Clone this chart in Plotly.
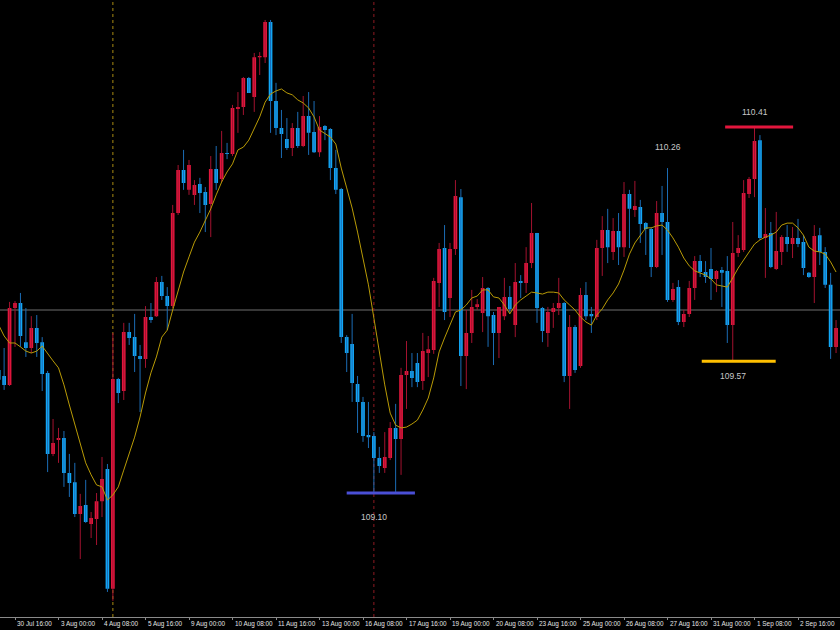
import plotly.graph_objects as go

# ---------------- data (H4 bars, index -1 .. 153) ----------------
bars = list(range(-1, 154))

open_ = [
    109.540, 109.519, 109.487, 109.762, 109.780, 109.640, 109.619, 109.691, 109.640, 109.530,
    109.240, 109.290, 109.297, 109.172, 109.139, 109.025, 109.057, 108.989, 109.007, 109.071,
    109.186, 108.757, 109.508, 109.465, 109.676, 109.658, 109.590, 109.580, 109.730, 109.733,
    109.855, 109.805, 109.769, 110.102, 110.256, 110.185, 110.167, 110.206, 110.177, 110.134,
    110.260, 110.224, 110.317, 110.313, 110.474, 110.482, 110.585, 110.517, 110.660, 110.660,
    110.786, 110.503, 110.406, 110.367, 110.335, 110.406, 110.342, 110.449, 110.392, 110.320,
    110.414, 110.403, 110.263, 110.188, 109.658, 109.633, 109.490, 109.426, 109.308, 109.304,
    109.225, 109.190, 109.225, 109.333, 109.293, 109.522, 109.537, 109.565, 109.501, 109.601,
    109.612, 109.852, 109.977, 109.798, 109.973, 110.159, 109.590, 109.673, 109.766, 109.744,
    109.834, 109.737, 109.673, 109.733, 109.802, 109.701, 109.859, 109.852, 109.923, 110.031,
    109.762, 109.673, 109.748, 109.762, 109.780, 109.519, 109.694, 109.555, 109.809, 109.741,
    109.730, 109.977, 110.041, 109.963, 110.038, 109.980, 110.170, 110.113, 110.124, 110.066,
    110.045, 109.909, 110.102, 110.070, 109.791, 109.837, 109.712, 109.741, 109.834, 109.930,
    109.891, 109.902, 109.866, 109.898, 109.895, 109.701, 109.959, 109.970, 110.170, 110.224,
    110.363, 110.013, 110.031, 109.902, 109.963, 110.016, 109.991, 110.013, 109.998, 109.888,
    109.873, 110.023, 109.963, 109.845, 109.623,
]

high = [
    109.558, 109.619, 109.784, 109.787, 109.816, 109.762, 109.733, 109.737, 109.658, 109.537,
    109.365, 109.333, 109.322, 109.240, 109.208, 109.097, 109.147, 109.032, 109.100, 109.229,
    109.204, 109.673, 109.512, 109.709, 109.709, 109.741, 109.630, 109.769, 109.780, 109.873,
    109.877, 109.837, 110.131, 110.274, 110.328, 110.292, 110.220, 110.228, 110.195, 110.306,
    110.342, 110.396, 110.353, 110.489, 110.535, 110.589, 110.589, 110.675, 110.678, 110.793,
    110.793, 110.568, 110.471, 110.442, 110.424, 110.464, 110.521, 110.535, 110.503, 110.449,
    110.417, 110.406, 110.328, 110.192, 109.665, 109.741, 109.519, 109.444, 109.426, 109.318,
    109.265, 109.318, 109.354, 109.419, 109.548, 109.644, 109.601, 109.601, 109.673, 109.662,
    109.870, 109.995, 110.059, 109.995, 110.220, 110.188, 109.755, 109.827, 109.794, 109.873,
    109.837, 109.748, 109.766, 109.870, 109.841, 109.923, 109.880, 109.980, 110.138, 110.031,
    109.766, 109.766, 109.780, 109.870, 109.784, 109.737, 109.701, 109.834, 109.855, 109.766,
    110.006, 110.091, 110.117, 110.084, 110.102, 110.213, 110.185, 110.217, 110.149, 110.070,
    110.052, 110.145, 110.199, 110.263, 109.852, 109.862, 109.755, 109.859, 109.948, 109.952,
    109.930, 109.977, 109.898, 109.909, 109.948, 110.070, 110.023, 110.220, 110.231, 110.410,
    110.381, 110.120, 110.070, 110.106, 110.023, 110.059, 110.052, 110.081, 110.023, 109.891,
    110.059, 110.049, 109.980, 109.888, 109.719,
]

low = [
    109.487, 109.469, 109.483, 109.623, 109.623, 109.587, 109.601, 109.587, 109.465, 109.175,
    109.232, 109.208, 109.122, 109.086, 109.014, 108.864, 108.993, 108.939, 108.914, 109.014,
    108.746, 108.714, 109.422, 109.433, 109.630, 109.533, 109.390, 109.548, 109.709, 109.730,
    109.791, 109.683, 109.762, 110.095, 110.185, 110.167, 110.131, 110.102, 110.034, 110.016,
    110.185, 110.213, 110.295, 110.306, 110.389, 110.453, 110.532, 110.464, 110.596, 110.639,
    110.389, 110.381, 110.299, 110.328, 110.306, 110.335, 110.338, 110.310, 110.317, 110.303,
    110.363, 110.220, 110.170, 109.637, 109.533, 109.426, 109.315, 109.283, 109.261, 109.100,
    109.172, 109.172, 109.218, 109.104, 109.165, 109.401, 109.479, 109.479, 109.469, 109.515,
    109.598, 109.766, 109.719, 109.730, 109.952, 109.483, 109.472, 109.637, 109.755, 109.676,
    109.623, 109.558, 109.583, 109.719, 109.744, 109.658, 109.798, 109.816, 109.905, 109.709,
    109.640, 109.623, 109.691, 109.737, 109.497, 109.401, 109.530, 109.548, 109.719, 109.673,
    109.719, 109.877, 109.923, 109.934, 109.916, 109.945, 109.977, 110.088, 109.995, 109.952,
    109.873, 109.905, 109.952, 109.784, 109.784, 109.701, 109.694, 109.730, 109.791, 109.873,
    109.852, 109.791, 109.819, 109.766, 109.637, 109.572, 109.945, 109.963, 110.156, 110.159,
    110.006, 109.870, 109.905, 109.898, 109.916, 109.963, 109.941, 109.980, 109.880, 109.870,
    109.780, 109.916, 109.834, 109.580, 109.601,
]

close = [
    109.505, 109.487, 109.762, 109.780, 109.662, 109.619, 109.691, 109.637, 109.526, 109.240,
    109.279, 109.297, 109.172, 109.136, 109.025, 109.054, 108.996, 109.011, 109.071, 109.150,
    108.757, 109.508, 109.458, 109.676, 109.655, 109.590, 109.580, 109.730, 109.719, 109.855,
    109.805, 109.769, 110.102, 110.256, 110.210, 110.274, 110.202, 110.174, 110.131, 110.260,
    110.210, 110.317, 110.313, 110.478, 110.482, 110.585, 110.532, 110.660, 110.664, 110.786,
    110.503, 110.406, 110.385, 110.335, 110.406, 110.342, 110.449, 110.389, 110.320, 110.410,
    110.399, 110.263, 110.185, 109.658, 109.601, 109.494, 109.426, 109.304, 109.300, 109.225,
    109.197, 109.229, 109.333, 109.293, 109.522, 109.537, 109.512, 109.497, 109.608, 109.615,
    109.859, 109.973, 109.748, 109.973, 110.163, 109.590, 109.673, 109.766, 109.776, 109.834,
    109.733, 109.673, 109.766, 109.802, 109.759, 109.855, 109.852, 109.923, 110.031, 109.762,
    109.680, 109.748, 109.762, 109.780, 109.519, 109.694, 109.540, 109.809, 109.733, 109.733,
    109.977, 110.041, 109.980, 110.038, 109.980, 110.170, 110.117, 110.127, 110.063, 110.045,
    109.909, 110.102, 110.070, 109.791, 109.830, 109.712, 109.741, 109.834, 109.930, 109.891,
    109.873, 109.866, 109.895, 109.888, 109.701, 109.959, 109.977, 110.174, 110.224, 110.360,
    110.013, 110.027, 109.909, 109.966, 110.016, 109.991, 110.013, 109.991, 109.905, 109.873,
    110.020, 109.963, 109.845, 109.623, 109.691,
]

ma = [
    109.701, 109.662, 109.637, 109.637, 109.623, 109.608, 109.601, 109.608, 109.626, 109.598,
    109.573, 109.548, 109.487, 109.415, 109.347, 109.279, 109.208, 109.165, 109.129, 109.122,
    109.075, 109.093, 109.122, 109.182, 109.243, 109.300, 109.372, 109.458, 109.530, 109.587,
    109.658, 109.683, 109.755, 109.827, 109.891, 109.945, 109.998, 110.034, 110.074, 110.117,
    110.167, 110.213, 110.249, 110.278, 110.328, 110.338, 110.363, 110.406, 110.446, 110.499,
    110.528, 110.539, 110.546, 110.532, 110.525, 110.507, 110.496, 110.478, 110.446, 110.399,
    110.385, 110.374, 110.349, 110.263, 110.192, 110.120, 110.034, 109.934, 109.845, 109.726,
    109.605, 109.487, 109.386, 109.343, 109.333, 109.336, 109.347, 109.361, 109.397, 109.440,
    109.512, 109.605, 109.655, 109.701, 109.748, 109.755, 109.773, 109.798, 109.805, 109.827,
    109.827, 109.802, 109.798, 109.773, 109.741, 109.773, 109.791, 109.805, 109.819, 109.816,
    109.812, 109.819, 109.819, 109.816, 109.791, 109.773, 109.755, 109.730, 109.712, 109.701,
    109.737, 109.759, 109.791, 109.816, 109.848, 109.898, 109.955, 109.995, 110.023, 110.049,
    110.049, 110.056, 110.059, 110.041, 110.013, 109.980, 109.941, 109.913, 109.895, 109.888,
    109.880, 109.866, 109.845, 109.841, 109.837, 109.870, 109.905, 109.934, 109.963, 109.991,
    110.006, 110.016, 110.023, 110.034, 110.059, 110.066, 110.066, 110.049, 110.023, 109.980,
    109.966, 109.963, 109.955, 109.927, 109.891,
]

tick_bars = [2, 10, 18, 26, 34, 42, 50, 58, 66, 74, 82, 90, 98, 106, 114, 122, 130, 138, 146]
tick_labels = [
    "30 Jul 16:00", "3 Aug 00:00", "4 Aug 08:00", "5 Aug 16:00", "9 Aug 00:00",
    "10 Aug 08:00", "11 Aug 16:00", "13 Aug 00:00", "16 Aug 08:00", "17 Aug 16:00",
    "19 Aug 00:00", "20 Aug 08:00", "23 Aug 16:00", "25 Aug 00:00", "26 Aug 08:00",
    "27 Aug 16:00", "31 Aug 00:00", "1 Sep 08:00", "2 Sep 16:00",
]

bid_price = 109.755
vline_bars = [20, 68]

# marked extremes: price, bar of the extreme, label text
level_prices = [110.410, 110.263, 109.572, 109.100]
level_bars = [138, 122, 134, 68]
level_texts = ["110.41", "110.26", "109.57", "109.10"]

# ---------------- styling ----------------
UP_BODY, DN_BODY = "#E3163D", "#12A8F7"
UP_WICK, DN_WICK = "#A3122F", "#1B6CB4"
MA_COLOR = "#B99B06"
BG = "#000000"

X_RANGE = [-0.7586, 153.724]
Y_RANGE = [108.6563, 110.8645]

fig = go.Figure()

# wicks (thin, darker)
fig.add_trace(go.Ohlc(
    x=bars, open=open_, high=high, low=low, close=close,
    tickwidth=0,
    increasing=dict(line=dict(color=UP_WICK, width=1)),
    decreasing=dict(line=dict(color=DN_WICK, width=1)),
    hoverinfo="skip", showlegend=False,
))

# bodies
fig.add_trace(go.Candlestick(
    x=bars, open=open_, high=high, low=low, close=close,
    increasing=dict(line=dict(color=UP_BODY, width=0), fillcolor=UP_BODY),
    decreasing=dict(line=dict(color=DN_BODY, width=0), fillcolor=DN_BODY),
    whiskerwidth=0, hoverinfo="skip", showlegend=False,
))

# moving average
fig.add_trace(go.Scatter(
    x=bars, y=ma, mode="lines",
    line=dict(color=MA_COLOR, width=1),
    hoverinfo="skip", showlegend=False,
))

shapes = []
# bid line
shapes.append(dict(type="line", xref="paper", x0=0, x1=1, yref="y",
                   y0=bid_price, y1=bid_price, layer="below",
                   line=dict(color="#6F6F6F", width=1)))
# vertical separators
vcolors = ["#A88A12", "#8E1A22"]
for b, c in zip(vline_bars, vcolors):
    shapes.append(dict(type="line", xref="x", x0=b, x1=b, yref="paper", y0=0, y1=1,
                       layer="below", line=dict(color=c, width=1, dash="dot")))

# level segments (style: offsets in bars, color)
seg_style = {
    "110.41": (-5.4, 7.1, "#E3163D"),
    "109.57": (-5.7, 7.9, "#FFC000"),
    "109.10": (-5.0, 7.55, "#4A4FD6"),
}
annotations = []
label_shift = {"110.41": 15, "110.26": 21, "109.57": -15, "109.10": -24}
for p, b, t in zip(level_prices, level_bars, level_texts):
    if t in seg_style:
        d0, d1, c = seg_style[t]
        shapes.append(dict(type="line", xref="x", x0=b + d0, x1=b + d1, yref="y",
                           y0=p, y1=p, line=dict(color=c, width=3)))
    annotations.append(dict(x=b, y=p, xref="x", yref="y", text=t, showarrow=False,
                            xanchor="center", yanchor="middle", yshift=label_shift[t],
                            font=dict(family="Liberation Sans, Arial", size=8.5, color="#C8C8C8")))

# x tick labels (left-aligned to tick, MT4 style)
for b, t in zip(tick_bars, tick_labels):
    annotations.append(dict(x=b, y=0, xref="x", yref="paper", text=t, showarrow=False,
                            xanchor="left", yanchor="top", xshift=0, yshift=-1,
                            font=dict(family="Liberation Sans, Arial", size=6.4, color="#E4E4E4")))

fig.update_layout(
    width=840, height=630,
    paper_bgcolor=BG, plot_bgcolor=BG,
    margin=dict(l=0, r=0, t=0, b=13),
    showlegend=False,
    boxgap=0.15, boxgroupgap=0.2,
    shapes=shapes, annotations=annotations,
    xaxis=dict(range=X_RANGE, showgrid=False, zeroline=False,
               showline=True, linecolor="#8A8A8A", linewidth=1,
               tickmode="array", tickvals=tick_bars, ticktext=[""] * len(tick_bars),
               ticks="outside", ticklen=2, tickcolor="#8A8A8A",
               rangeslider=dict(visible=False), fixedrange=True),
    yaxis=dict(range=Y_RANGE, visible=False, showgrid=False, zeroline=False,
               fixedrange=True),
)

fig.write_html("out.html", config={"displayModeBar": False},
               post_script="document.body.style.margin='0';document.body.style.overflow='hidden';")
